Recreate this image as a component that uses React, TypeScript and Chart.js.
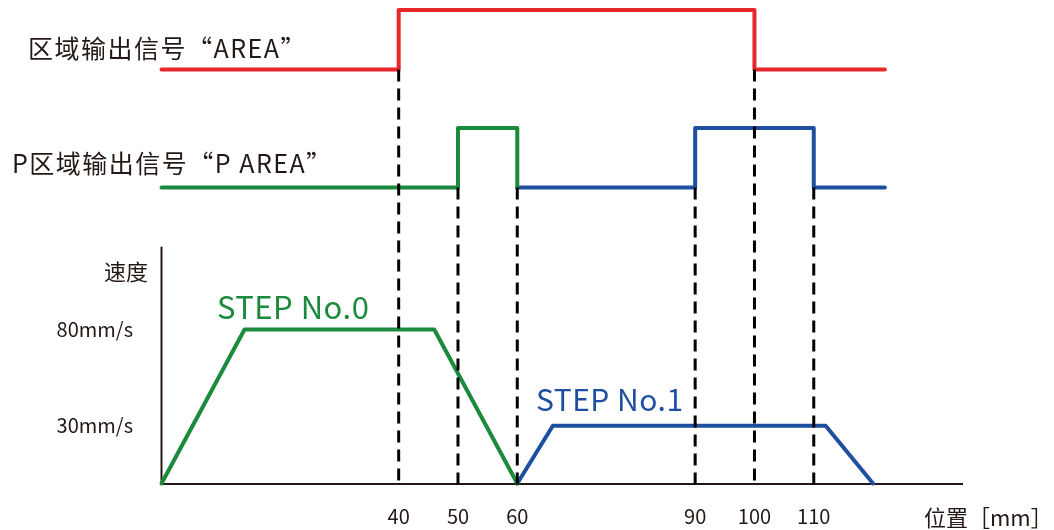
import React, { useEffect, useRef } from 'react';
import { Chart, registerables } from 'chart.js';

Chart.register(...registerables);

// ---------- data (positions in mm, velocities in mm/s, signals 0/1) ----------
const AREA_X = [0, 40, 100, 122];
const AREA_Y = [0, 1, 0, 0];
const PAREA_STEP0_X = [0, 50, 60];
const PAREA_STEP0_Y = [0, 1, 0];
const PAREA_STEP1_X = [60, 90, 110, 122];
const PAREA_STEP1_Y = [0, 1, 0, 0];
const STEP0_X = [0, 14, 46, 60];
const STEP0_V = [0, 80, 80, 0];
const STEP1_X = [60, 66, 112, 120];
const STEP1_V = [0, 30, 30, 0];
const X_TICKS = [40, 50, 60, 90, 100, 110];
const V_TICKS = [30, 80];
const AREA_MARKS = [40, 100];
const PAREA_MARKS = [50, 60, 90, 110];

const LABEL_AREA = '区域输出信号“AREA”';
const LABEL_PAREA = 'P区域输出信号“P AREA”';
const LABEL_V = '速度';
const LABEL_X = '位置［mm］';
const LABEL_STEP0 = 'STEP No.0';
const LABEL_STEP1 = 'STEP No.1';

// ---------- style / layout ----------
const W = 1054;
const H = 530;
const FONT = '"Noto Sans CJK SC", "Noto Sans", sans-serif';
const TEXT = '#231815';
const RED = '#e8262b';
const GREEN = '#1b8a3c';
const BLUE = '#1e4fa0';

const PLOT_LEFT = 161.5;
const PLOT_RIGHT = 962;
const PLOT_BOTTOM = 483.5;
const X_MAX = 135;
const V_PX_PER_UNIT = 154 / 80;
const V_MAX = PLOT_BOTTOM / V_PX_PER_UNIT;
const V_AXIS_TOP = 123;

function sigRange(pxLow: number, pxHigh: number) {
  const k = pxLow - pxHigh;
  return { min: -(PLOT_BOTTOM - pxLow) / k, max: 1 + pxHigh / k };
}
const SIG_A = sigRange(69.5, 10);
const SIG_P = sigRange(187.5, 128);

const pts = (xs: number[], ys: number[]) => xs.map((x, i) => ({ x, y: ys[i] }));

const TEXTS = [
  { text: LABEL_AREA, x: 28, y: 48, size: 25, color: TEXT, align: 'left', spacing: 1.5 },
  { text: LABEL_PAREA, x: 12, y: 163, size: 25, color: TEXT, align: 'left', spacing: 1.5 },
  { text: LABEL_V, x: 148, y: 272, size: 22, color: TEXT, align: 'right', spacing: 0 },
  { text: LABEL_X, x: 924, y: 518, size: 22, color: TEXT, align: 'left', spacing: 0 },
  { text: LABEL_STEP0, x: 217, y: 307, size: 31, color: GREEN, align: 'left', spacing: 0.5 },
  { text: LABEL_STEP1, x: 536, y: 400, size: 30, color: BLUE, align: 'left', spacing: 0.5 },
];

const decor = {
  id: 'decor',
  beforeDatasetsDraw(chart: any) {
    const { ctx } = chart;
    const x = chart.scales.x;
    const y = chart.scales.y;
    const px = x.getPixelForValue(0);
    ctx.save();
    ctx.strokeStyle = TEXT;
    ctx.lineWidth = 2;
    ctx.beginPath();
    ctx.moveTo(px, y.getPixelForValue(0) + 1);
    ctx.lineTo(px, y.getPixelForValue(V_AXIS_TOP));
    ctx.stroke();
    ctx.restore();
  },
  afterDatasetsDraw(chart: any) {
    const { ctx } = chart;
    const x = chart.scales.x;
    const y = chart.scales.y;
    const bottom = y.getPixelForValue(0) + 4;
    const draw = (xv: number, scaleId: string) => {
      const px = x.getPixelForValue(xv);
      const top = chart.scales[scaleId].getPixelForValue(0);
      ctx.beginPath();
      ctx.moveTo(px, top);
      ctx.lineTo(px, bottom);
      ctx.stroke();
    };
    ctx.save();
    ctx.strokeStyle = '#000';
    ctx.lineWidth = 3;
    ctx.setLineDash([12, 7]);
    AREA_MARKS.forEach((v) => draw(v, 'ySigA'));
    PAREA_MARKS.forEach((v) => draw(v, 'ySigP'));
    ctx.restore();
  },
  afterDraw(chart: any) {
    const { ctx } = chart;
    ctx.save();
    ctx.textBaseline = 'middle';
    TEXTS.forEach((t) => {
      ctx.font = `${t.size}px ${FONT}`;
      ctx.fillStyle = t.color;
      ctx.textAlign = t.align as CanvasTextAlign;
      try {
        (ctx as any).letterSpacing = `${t.spacing}px`;
      } catch (e) {}
      ctx.fillText(t.text, t.x, t.y);
    });
    ctx.restore();
  },
};

const zeroPad = (s: any) => {
  s.paddingLeft = 0;
  s.paddingRight = 0;
  s.paddingTop = 0;
  s.paddingBottom = 0;
};

export default function App() {
  const ref = useRef<HTMLCanvasElement>(null);
  useEffect(() => {
    if (!ref.current) return;
    const lineBase = {
      pointRadius: 0,
      borderWidth: 4,
      borderJoinStyle: 'round',
      borderCapStyle: 'round',
      clip: false,
      tension: 0,
      fill: false,
    };
    const chart = new Chart(ref.current, {
      type: 'line',
      data: {
        datasets: [
          { ...lineBase, label: 'AREA', data: pts(AREA_X, AREA_Y), borderColor: RED, stepped: 'before', yAxisID: 'ySigA' },
          { ...lineBase, label: 'P AREA 0', data: pts(PAREA_STEP0_X, PAREA_STEP0_Y), borderColor: GREEN, stepped: 'before', yAxisID: 'ySigP' },
          { ...lineBase, label: 'P AREA 1', data: pts(PAREA_STEP1_X, PAREA_STEP1_Y), borderColor: BLUE, stepped: 'before', yAxisID: 'ySigP' },
          { ...lineBase, label: 'STEP No.0', data: pts(STEP0_X, STEP0_V), borderColor: GREEN, yAxisID: 'y' },
          { ...lineBase, label: 'STEP No.1', data: pts(STEP1_X, STEP1_V), borderColor: BLUE, yAxisID: 'y' },
        ] as any,
      },
      options: {
        animation: false,
        responsive: false,
        events: [],
        layout: { padding: { left: 0, right: W - PLOT_RIGHT, top: 0, bottom: 0 } },
        plugins: { legend: { display: false }, tooltip: { enabled: false } },
        scales: {
          x: {
            type: 'linear',
            position: 'bottom',
            min: 0,
            max: X_MAX,
            grid: { display: false, drawTicks: false },
            border: { display: true, color: TEXT, width: 2 },
            ticks: { font: { family: FONT, size: 20 }, color: TEXT, padding: 21, maxRotation: 0, autoSkip: false },
            afterBuildTicks: (s: any) => {
              s.ticks = X_TICKS.map((v) => ({ value: v }));
            },
            afterFit: (s: any) => {
              s.height = H - PLOT_BOTTOM;
              zeroPad(s);
            },
          },
          y: {
            type: 'linear',
            position: 'left',
            min: 0,
            max: V_MAX,
            grid: { display: false, drawTicks: false },
            border: { display: false },
            ticks: {
              font: { family: FONT, size: 20 },
              color: TEXT,
              padding: 28.5,
              autoSkip: false,
              callback: (v: any) => `${v}mm/s`,
            },
            afterBuildTicks: (s: any) => {
              s.ticks = V_TICKS.map((v) => ({ value: v }));
            },
            afterFit: (s: any) => {
              s.width = PLOT_LEFT;
              zeroPad(s);
            },
          },
          ySigA: { type: 'linear', display: false, min: SIG_A.min, max: SIG_A.max },
          ySigP: { type: 'linear', display: false, min: SIG_P.min, max: SIG_P.max },
        },
      } as any,
      plugins: [decor],
    });
    return () => chart.destroy();
  }, []);
  return (
    <canvas
      ref={ref}
      width={W}
      height={H}
      style={{ position: 'absolute', left: 0, top: 0, width: W, height: H, display: 'block' }}
    />
  );
}
